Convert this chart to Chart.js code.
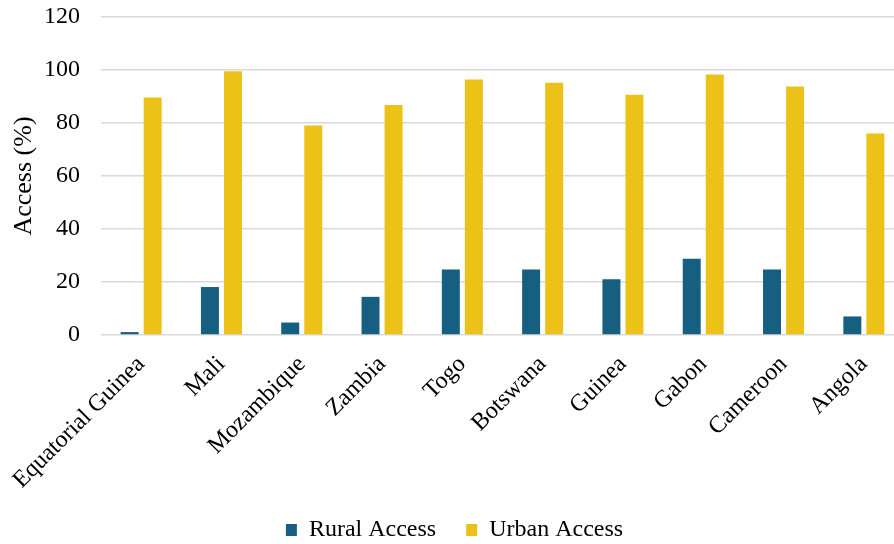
<!DOCTYPE html>
<html>
<head>
<meta charset="utf-8">
<script src="https://cdn.jsdelivr.net/npm/chart.js@4.4.0/dist/chart.umd.min.js"></script>
<style>
  html, body { margin: 0; padding: 0; background: #fff; overflow: hidden; }
  #wrap { width: 910px; height: 544px; }
</style>
</head>
<body>
<div id="wrap"><canvas id="accessChart" width="910" height="544"></canvas></div>
<script>
// Datos del grafico

let countries = ["Equatorial Guinea", "Mali", "Mozambique", "Zambia", "Togo", "Botswana", "Guinea", "Gabon", "Cameroon", "Angola"];
let ruralAccess = [1.1, 18.1, 4.7, 14.4, 24.7, 24.7, 21.0, 28.8, 24.7, 7.0];
let urbanAccess = [89.6, 99.5, 79.1, 86.8, 96.4, 95.2, 90.7, 98.3, 93.8, 76.0];
let yTicks = [0, 20, 40, 60, 80, 100, 120];

let serif = "'Liberation Serif', 'Times New Roman', serif";

// Grafico de barras

let ctx = document.getElementById("accessChart").getContext("2d");

let chart = new Chart(ctx, {
  type: "bar",
  data: {
    labels: countries,
    datasets: [
      {
        label: "Rural Access",
        data: ruralAccess,
        backgroundColor: "#175f81",
        categoryPercentage: 0.574,
        barPercentage: 0.78,
      },
      {
        label: "Urban Access",
        data: urbanAccess,
        backgroundColor: "#ecc118",
        categoryPercentage: 0.574,
        barPercentage: 0.78,
      },
    ],
  },
  options: {
    responsive: false,
    animation: false,
    layout: {
      padding: { left: 5, right: 6, top: 0, bottom: 0 },
    },
    plugins: {
      legend: {
        position: "bottom",
        maxHeight: 56,
        labels: {
          color: "#000",
          boxWidth: 11,
          boxHeight: 12,
          padding: 30,
          font: { family: serif, size: 24 },
        },
      },
      tooltip: { enabled: false },
    },
    scales: {
      x: {
        grid: { display: false },
        border: { display: false },
        ticks: {
          color: "#000",
          autoSkip: false,
          maxRotation: 45,
          minRotation: 45,
          padding: 9,
          font: { family: serif, size: 24, lineHeight: 1 },
        },
        // las etiquetas giradas no deben correr el area del grafico
        afterFit: (scale) => {
          scale.paddingLeft = 0;
          scale.height = 153;
        },
      },
      y: {
        min: 0,
        max: 120,
        afterBuildTicks: (axis) => {
          axis.ticks = yTicks.map((v) => ({ value: v }));
        },
        afterFit: (scale) => {
          scale.width = 96;
          scale.paddingTop = 17;
          scale.paddingBottom = 0;
        },
        grid: { color: "#d9d9d9", lineWidth: 1.5, drawTicks: false },
        border: { display: false },
        ticks: {
          color: "#000",
          padding: 21,
          font: { family: serif, size: 24 },
        },
        title: {
          display: true,
          text: "Access (%)",
          color: "#000",
          font: { family: serif, size: 26 },
          padding: { top: 4, bottom: 4 },
        },
      },
    },
  },
});
</script>
</body>
</html>
